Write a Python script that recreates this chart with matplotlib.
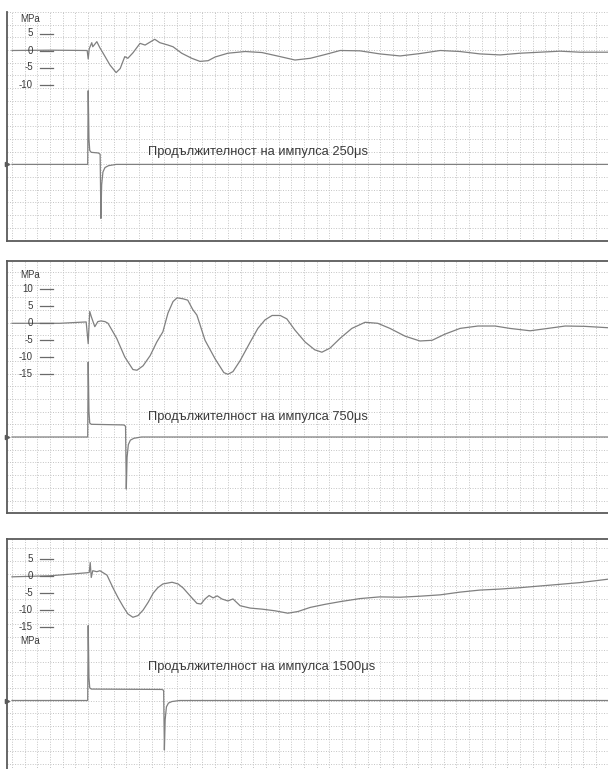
import numpy as np
import matplotlib
matplotlib.use("Agg")
import matplotlib.pyplot as plt

plt.rcParams['font.family'] = ['Liberation Sans', 'DejaVu Sans']

# ---------------- data (time in ms, pressure in MPa, pulse in V/div) -------------
titles = ["Продължителност на импулса 250μs",
          "Продължителност на импулса 750μs",
          "Продължителност на импулса 1500μs"]

pressure_ticks_1 = [5, 0, -5, -10]
pressure_ticks_2 = [10, 5, 0, -5, -10, -15]
pressure_ticks_3 = [5, 0, -5, -10, -15]

time_1 = [0.00, 0.75, 1.48, 1.50, 1.52, 1.57, 1.59, 1.67, 1.73, 1.79, 1.93, 2.05, 2.13,
          2.22, 2.28, 2.38, 2.52, 2.62, 2.81, 2.91, 3.07, 3.17, 3.34, 3.54, 3.70, 3.86,
          4.00, 4.25, 4.59, 4.92, 5.28, 5.57, 5.87, 6.16, 6.46, 6.85, 7.24, 7.64, 8.03,
          8.43, 8.82, 9.21, 9.61, 10.00, 10.39, 10.79, 11.18, 11.73]
pressure_1 = [0.0, 0.1, 0.0, -2.5, 0.5, 2.3, 1.1, 2.6, 0.8, -0.7, -4.3, -6.5, -5.3,
              -1.8, -2.3, -0.7, 2.1, 1.6, 3.3, 2.3, 1.6, 1.1, -0.8, -2.3, -3.2, -3.0,
              -1.9, -0.8, -0.3, -0.6, -1.8, -2.8, -2.3, -1.2, 0.0, -0.1, -1.0, -1.6, -0.9,
              0.0, -0.3, -1.0, -1.3, -0.8, -0.5, -0.2, -0.5, -0.5]

time_2 = [0.00, 0.94, 1.46, 1.50, 1.53, 1.56, 1.63, 1.69, 1.75, 1.83, 1.89, 2.06, 2.22,
          2.38, 2.46, 2.58, 2.72, 2.85, 2.97, 3.07, 3.17, 3.25, 3.37, 3.46, 3.56, 3.64,
          3.80, 4.00, 4.17, 4.25, 4.35, 4.49, 4.69, 4.84, 4.98, 5.12, 5.28, 5.41, 5.57,
          5.77, 5.96, 6.10, 6.26, 6.46, 6.69, 6.95, 7.20, 7.44, 7.74, 8.03, 8.27, 8.52,
          8.82, 9.17, 9.51, 9.80, 10.20, 10.55, 10.89, 11.28, 11.73]
pressure_2 = [0.0, 0.0, 0.4, -6.0, 3.5, 2.0, -1.0, 0.5, 0.7, 0.5, 0.0, -4.4, -9.9,
              -13.6, -13.8, -12.5, -9.5, -5.5, -2.5, 3.0, 6.4, 7.5, 7.2, 6.8, 4.0, 2.4,
              -5.0, -10.5, -14.5, -15.0, -14.2, -11.0, -5.5, -1.5, 1.0, 2.3, 2.3, 1.3, -2.0,
              -5.5, -7.8, -8.5, -7.3, -4.4, -1.5, 0.3, 0.0, -1.5, -3.8, -5.2, -5.0, -3.2,
              -1.5, -0.8, -0.8, -1.5, -2.2, -1.5, -0.8, -0.9, -1.3]

time_3 = [0.00, 0.75, 1.48, 1.52, 1.54, 1.56, 1.59, 1.67, 1.73, 1.87, 1.99, 2.09, 2.19,
          2.28, 2.38, 2.48, 2.58, 2.68, 2.78, 2.87, 2.97, 3.15, 3.27, 3.37, 3.50, 3.64,
          3.72, 3.80, 3.88, 3.96, 4.04, 4.13, 4.25, 4.35, 4.49, 4.69, 4.92, 5.18, 5.43,
          5.63, 5.87, 6.16, 6.46, 6.85, 7.24, 7.64, 8.03, 8.43, 8.82, 9.21, 9.61, 10.00,
          10.39, 10.79, 11.18, 11.57, 11.73]
pressure_3 = [-0.3, 0.0, 0.9, 1.0, 3.9, -0.5, 1.5, 1.2, 1.5, 0.2, -3.6, -6.5, -9.1,
              -11.2, -12.2, -11.7, -10.1, -7.8, -5.1, -3.5, -2.4, -1.9, -2.4, -3.6, -5.8, -8.1,
              -8.3, -6.8, -5.8, -6.5, -5.9, -6.8, -7.4, -6.8, -8.8, -9.5, -9.8, -10.3, -11.0,
              -10.5, -9.3, -8.4, -7.6, -6.7, -6.2, -6.3, -6.0, -5.6, -4.8, -4.2, -3.9, -3.5,
              -3.0, -2.5, -2.0, -1.3, -1.0]

pulse_time_1 = [0.00, 1.49, 1.50, 1.515, 1.53, 1.56, 1.70, 1.735, 1.75, 1.765, 1.79, 1.83, 1.90, 2.05, 11.73]
pulse_1 = [0.0, 0.0, 5.8, 2.0, 1.1, 0.95, 0.9, 0.8, -4.25, -1.6, -0.6, -0.25, -0.1, 0.0, 0.0]

pulse_time_2 = [0.00, 1.49, 1.50, 1.515, 1.53, 1.56, 2.20, 2.235, 2.25, 2.265, 2.29, 2.33, 2.40, 2.55, 11.73]
pulse_2 = [0.0, 0.0, 5.9, 2.0, 1.1, 1.0, 0.95, 0.85, -4.1, -1.6, -0.6, -0.25, -0.1, 0.0, 0.0]

pulse_time_3 = [0.00, 1.49, 1.50, 1.515, 1.53, 1.56, 2.95, 2.985, 3.00, 3.015, 3.04, 3.08, 3.15, 3.30, 11.73]
pulse_3 = [0.0, 0.0, 5.9, 1.8, 1.0, 0.9, 0.87, 0.8, -3.9, -1.5, -0.5, -0.2, -0.08, 0.0, 0.0]

# ---------------- layout (pixels of the 608x769 picture) -------------------------
W, H = 608, 769
PX_PER_MS = 50.8
PX_PER_DIV = 12.7
PX_PER_MPA = 3.4
X_LEFT = 7.0      # left border
X_T0 = 12.0       # t = 0
X_RIGHT = 608.0

panels = [
    dict(top=12, bottom=241, zero=50.5, base=164.4, text_y=152, ticks=pressure_ticks_1,
         mpa='top', top_spine=False, bottom_spine=True,
         t=time_1, p=pressure_1, pt=pulse_time_1, pv=pulse_1, title=titles[0]),
    dict(top=261, bottom=513, zero=323.3, base=437.0, text_y=417, ticks=pressure_ticks_2,
         mpa='top', top_spine=True, bottom_spine=True,
         t=time_2, p=pressure_2, pt=pulse_time_2, pv=pulse_2, title=titles[1]),
    dict(top=539, bottom=772, zero=575.8, base=700.5, text_y=667, ticks=pressure_ticks_3,
         mpa='bottom', top_spine=True, bottom_spine=False,
         t=time_3, p=pressure_3, pt=pulse_time_3, pv=pulse_3, title=titles[2]),
]

fig = plt.figure(figsize=(W / 100, H / 100), dpi=100)

BORDER = '#5a5a5a'
TRACE = '#808080'
GRID = '#c4c4c4'
TEXT = '#3a3a3a'

xlim = (-(X_T0 - X_LEFT) / PX_PER_MS, (X_RIGHT - X_T0) / PX_PER_MS)

for pn in panels:
    T, B = pn['top'], pn['bottom']
    rect = [X_LEFT / W, 1 - B / H, (X_RIGHT - X_LEFT) / W, (B - T) / H]
    ax = fig.add_axes(rect)
    ax.set_xticks(np.arange(0, xlim[1], 0.25))
    ax.set_yticks(np.arange(-30, 31, 1))
    ax.set_xlim(*xlim)
    ax.set_ylim(-(B - pn['base']) / PX_PER_DIV, (pn['base'] - T) / PX_PER_DIV)
    ax.grid(True, color=GRID, linestyle=(0, (1, 1.6)), linewidth=0.7)
    ax.tick_params(length=0, labelleft=False, labelbottom=False)
    for s in ax.spines.values():
        s.set_color(BORDER)
        s.set_linewidth(1.3)
    ax.spines['right'].set_visible(False)
    ax.spines['top'].set_visible(pn['top_spine'])
    ax.spines['bottom'].set_visible(pn['bottom_spine'])

    # pulse (lower) trace
    ax.plot(pn['pt'], pn['pv'], color=TRACE, lw=0.9, solid_joinstyle='round')
    # channel marker on the left border
    ax.plot([0.0], [0.0], marker='>', ms=3, color=BORDER,
            transform=ax.get_yaxis_transform(), clip_on=False)

    # pressure (upper) trace on its own scale
    axp = ax.twinx()
    axp.set_yticks([])
    axp.set_xlim(*xlim)
    axp.set_ylim(-(B - pn['zero']) / PX_PER_MPA, (pn['zero'] - T) / PX_PER_MPA)
    for s in axp.spines.values():
        s.set_visible(False)
    axp.plot(pn['t'], pn['p'], color=TRACE, lw=0.9, solid_joinstyle='round')

    # pressure scale labels with short dashes
    tr = axp.get_yaxis_transform()
    lab_x = (33 - X_LEFT) / (X_RIGHT - X_LEFT)
    d0 = (40 - X_LEFT) / (X_RIGHT - X_LEFT)
    d1 = (53 - X_LEFT) / (X_RIGHT - X_LEFT)
    for v in pn['ticks']:
        axp.text(lab_x, v, str(v), transform=tr, ha='right', va='center',
                 fontsize=7, color=TEXT)
        axp.plot([d0, d1], [v, v], transform=tr, color='#6a6a6a', lw=0.9)
    mpa_x = (20 - X_LEFT) / (X_RIGHT - X_LEFT)
    if pn['mpa'] == 'top':
        mpa_v = max(pn['ticks']) + 14.3 / PX_PER_MPA
    else:
        mpa_v = min(pn['ticks']) - 14.3 / PX_PER_MPA
    axp.text(mpa_x, mpa_v, 'MPa', transform=tr, ha='left', va='center',
             fontsize=7, color=TEXT)

    # caption
    ax.text((148 - X_LEFT) / (X_RIGHT - X_LEFT), (B - pn['text_y']) / (B - T), pn['title'],
            transform=ax.transAxes, ha='left', va='center', fontsize=9.3, color=TEXT)

fig.savefig('out.png', dpi=100)
